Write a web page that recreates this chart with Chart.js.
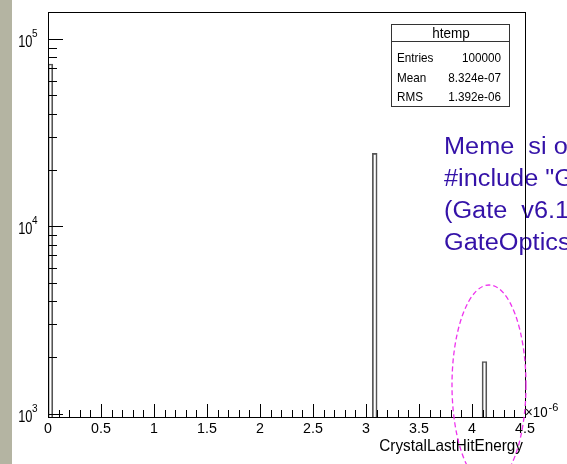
<!DOCTYPE html>
<html>
  <head>
    <title>htemp: CrystalLastHitEnergy</title>
    <meta charset="utf-8">
    <style>
      html, body { margin: 0; padding: 0; background: #fff; }
      #rame { width: 567px; height: 464px; }
    </style>
  </head>
  <body>
    <div id="rame">
      <canvas id="chart" width="567" height="464"></canvas>
    </div>

    <script src="https://cdn.jsdelivr.net/npm/chart.js"></script>
    <script>
      // htemp: 100 bins between 0 and 4.5 (units of 1e-6)
      const nBins = 100;
      const xMin = 0;
      const xMax = 4.5;
      const filledBins = [0, 68, 91];
      const binCounts = [73600, 24500, 1900];

      const xTickValues = [0, 0.5, 1, 1.5, 2, 2.5, 3, 3.5, 4, 4.5];
      const xTickLabels = ['0', '0.5', '1', '1.5', '2', '2.5', '3', '3.5', '4', '4.5'];
      const yDecadeExps = [3, 4, 5];
      const yMin = 960;
      const yMax = 139400;

      const statNames = ['Entries', 'Mean', 'RMS'];
      const statValues = ['100000', '8.324e-07', '1.392e-06'];
      const noteLines = ['Meme  si on', '#include "GateOpticalPhysics"', '(Gate  v6.1)', 'GateOptics'];

      const FONT = '"Liberation Sans", Arial, sans-serif';
      const binWidth = (xMax - xMin) / nBins;

      // one entry per bin, empty bins stay null so nothing is drawn for them
      const counts = [];
      const binCenters = [];
      for (let i = 0; i < nBins; i++) {
        counts.push(null);
        binCenters.push((xMin + (i + 0.5) * binWidth).toFixed(4));
      }
      filledBins.forEach((b, i) => { counts[b] = binCounts[i]; });

      // x value -> pixel, through the category scale (bin i spans index i-0.5 .. i+0.5)
      function xPix(chart, v) {
        return chart.scales.x.getPixelForValue((v - xMin) / binWidth - 0.5);
      }

      function txt(ctx, s, x, y, size, align, sx, color) {
        ctx.save();
        ctx.font = size + 'px ' + FONT;
        ctx.fillStyle = color || '#000';
        ctx.textAlign = align;
        ctx.textBaseline = 'alphabetic';
        ctx.translate(x, y);
        ctx.scale(sx, 1);
        ctx.fillText(s, 0, 0);
        ctx.restore();
      }

      function txtWidth(ctx, s, size, sx) {
        ctx.save();
        ctx.font = size + 'px ' + FONT;
        const w = ctx.measureText(s).width * sx;
        ctx.restore();
        return w;
      }

      const rootFrame = {
        id: 'rootFrame',
        beforeDraw(chart) {
          const ctx = chart.ctx;
          ctx.save();
          ctx.fillStyle = '#fff';
          ctx.fillRect(0, 0, chart.width, chart.height);
          ctx.fillStyle = '#b4b4a2';
          ctx.fillRect(0, 0, 12, chart.height);
          ctx.restore();
        },
        afterDatasetsDraw(chart) {
          const ctx = chart.ctx;
          const a = chart.chartArea;
          const ys = chart.scales.y;

          // note text sits under the frame
          noteLines.forEach((s, i) => {
            txt(ctx, s, 444, 154 + i * 32, 23, 'left', 1.1, '#3412a8');
          });

          ctx.save();
          ctx.strokeStyle = '#000';
          ctx.lineWidth = 1;
          ctx.strokeRect(a.left + 0.5, a.top + 0.5, a.right - a.left, a.bottom - a.top);

          // x ticks, 0.5 primary with 0.1 secondary
          ctx.beginPath();
          for (let i = 0; i <= 45; i++) {
            const px = Math.round(xPix(chart, i / 10)) + 0.5;
            const len = i % 5 === 0 ? 13 : 7;
            ctx.moveTo(px, a.bottom);
            ctx.lineTo(px, a.bottom - len);
          }
          // y ticks on the log axis
          for (let e = 2; e <= 5; e++) {
            for (let m = 1; m <= 9; m++) {
              const v = m * Math.pow(10, e);
              if (v < yMin || v > yMax) continue;
              const py = Math.round(ys.getPixelForValue(v)) + 0.5;
              const len = m === 1 ? 15 : 9;
              ctx.moveTo(a.left, py);
              ctx.lineTo(a.left + len, py);
            }
          }
          ctx.stroke();
          ctx.restore();

          // x labels
          xTickValues.forEach((v, i) => {
            txt(ctx, xTickLabels[i], xPix(chart, v), a.bottom + 16, 15, 'center', 0.95);
          });
          txt(ctx, '\u00d710', a.right, a.bottom, 14, 'left', 0.95);
          txt(ctx, '-6', a.right + txtWidth(ctx, '\u00d710', 14, 0.95) + 1, a.bottom - 6, 11, 'left', 1);
          txt(ctx, 'CrystalLastHitEnergy', a.right - 2, a.bottom + 34, 17, 'right', 0.9);

          // y labels 10^n
          yDecadeExps.forEach(e => {
            const py = ys.getPixelForValue(Math.pow(10, e));
            const supW = txtWidth(ctx, String(e), 10, 1);
            txt(ctx, String(e), 37.5, py - 2, 10, 'right', 1);
            txt(ctx, '10', 38 - supW, py + 8, 16, 'right', 0.8);
          });

          // stats box
          ctx.save();
          ctx.fillStyle = '#fff';
          ctx.strokeStyle = '#333';
          ctx.lineWidth = 1;
          ctx.fillRect(391, 24, 118, 82);
          ctx.strokeRect(391.5, 24.5, 118, 82);
          ctx.beginPath();
          ctx.moveTo(391.5, 41.5);
          ctx.lineTo(509.5, 41.5);
          ctx.stroke();
          ctx.restore();
          txt(ctx, 'htemp', 451, 38, 15, 'center', 0.9);
          statNames.forEach((s, i) => {
            const by = 62 + i * 19.7;
            txt(ctx, s, 397, by, 13, 'left', 0.9);
            txt(ctx, statValues[i], 501, by, 13, 'right', 0.9);
          });

          // dashed ring around the small peak
          ctx.save();
          ctx.strokeStyle = '#ee33ee';
          ctx.lineWidth = 1.3;
          ctx.setLineDash([5, 3]);
          ctx.beginPath();
          ctx.ellipse(489, 385, 37, 100, 0, 0, Math.PI * 2);
          ctx.stroke();
          ctx.restore();
        }
      };

      new Chart(document.getElementById('chart'), {
        type: 'bar',
        data: {
          labels: binCenters,
          datasets: [{
            data: counts,
            backgroundColor: 'rgba(255,255,255,0)',
            borderColor: '#555',
            borderWidth: 1,
            borderSkipped: 'bottom',
            barPercentage: 1,
            categoryPercentage: 1
          }]
        },
        options: {
          responsive: false,
          animation: false,
          layout: { padding: { left: 48, right: 42, top: 12, bottom: 47 } },
          plugins: {
            legend: { display: false },
            tooltip: { enabled: false }
          },
          scales: {
            x: { type: 'category', display: false, offset: true },
            y: { type: 'logarithmic', display: false, min: yMin, max: yMax, bounds: 'data' }
          }
        },
        plugins: [rootFrame]
      });
    </script>
  </body>
</html>
